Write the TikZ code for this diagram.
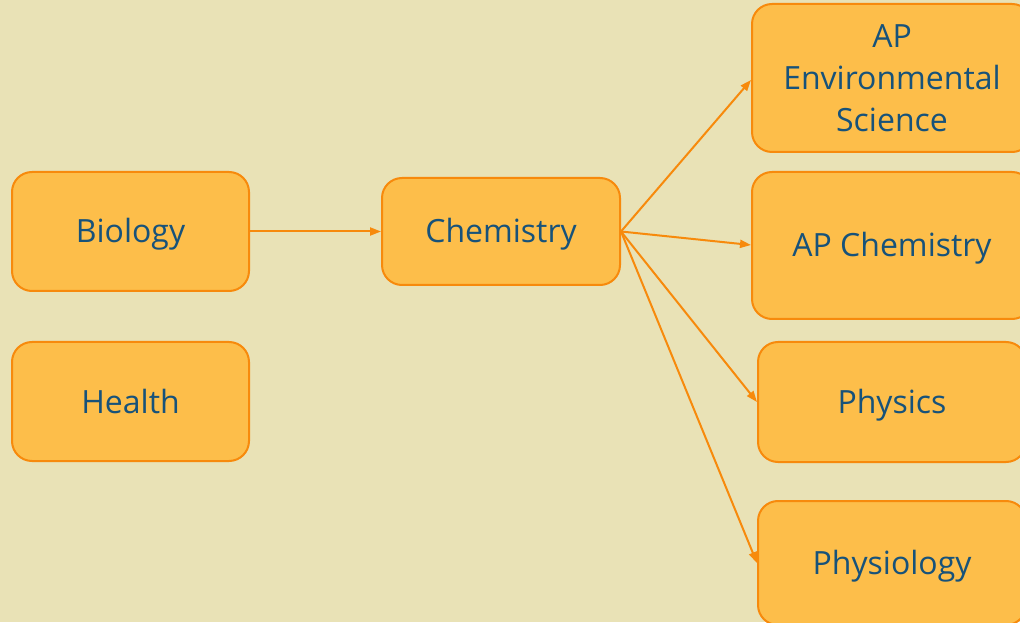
\documentclass[tikz,border=0pt]{standalone}
\usepackage{fontspec}
\setmainfont{Open Sans}
\usetikzlibrary{arrows.meta}
\definecolor{bg}{HTML}{E9E2B6}
\definecolor{boxfill}{HTML}{FDBE4A}
\definecolor{boxline}{HTML}{F78A0C}
\definecolor{txt}{HTML}{17527A}
\tikzset{
  course/.style={draw=boxline, line width=2pt, fill=boxfill, rounded corners=20pt,
    text=txt, font=\fontsize{32}{42}\selectfont, align=center, inner sep=0pt,
    text height=23pt, text depth=0pt},
  link/.style={draw=boxline, line width=2pt, -{Triangle[length=11pt,width=8pt]}}
}
\begin{document}
\begin{tikzpicture}[x=1pt,y=1pt]
\fill[bg] (0,0) rectangle (1020,622);
\useasboundingbox (0,0) rectangle (1020,622);
\node[course, minimum width=237pt, minimum height=119pt] (bio) at (130.5,390.5) {Biology};
\node[course, minimum width=237pt, minimum height=119pt] (hea) at (130.5,220.5) {Health};
\node[course, minimum width=238pt, minimum height=107pt] (chem) at (501,390.5) {Chemistry};
\node[course, minimum width=280pt, minimum height=148pt, text height=107pt] (apes) at (892,544) {AP\\Environmental\\Science};
\node[course, minimum width=280pt, minimum height=147pt] (apch) at (892,376.5) {AP Chemistry};
\node[course, minimum width=268pt, minimum height=120pt] (phys) at (892,220) {Physics};
\node[course, minimum width=268pt, minimum height=124pt] (phyo) at (892,59) {Physiology};
\draw[link] (bio.east) -- (chem.west);
\draw[link] (chem.east) -- (apes.west |- 0,542);
\draw[link] (chem.east) -- (apch.west |- 0,377);
\draw[link] (chem.east) -- (phys.west);
\draw[link] (chem.east) -- (phyo.west);
\end{tikzpicture}
\end{document}
